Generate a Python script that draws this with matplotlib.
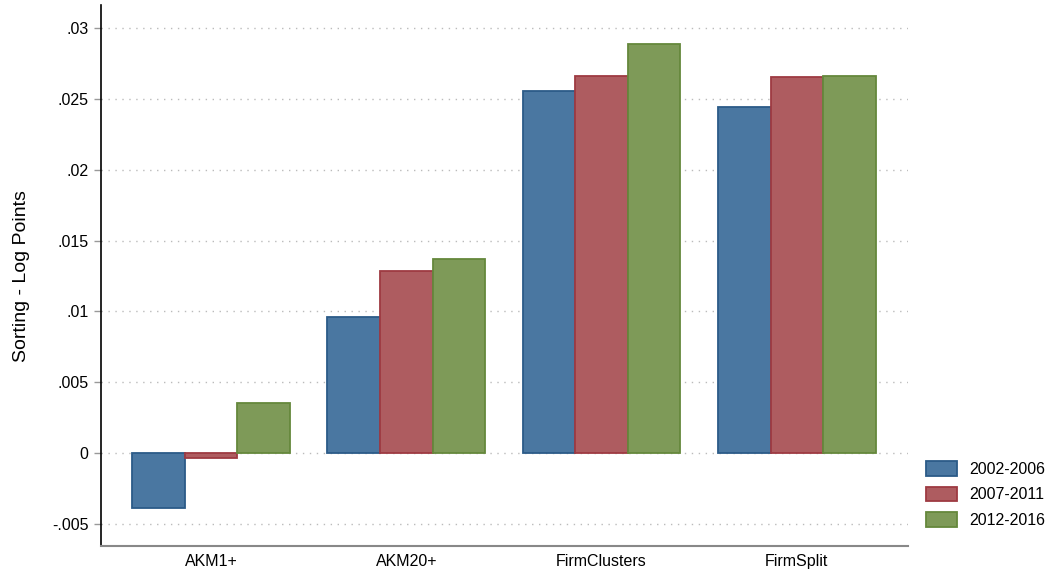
import matplotlib
matplotlib.use("Agg")
import matplotlib.pyplot as plt
import numpy as np

plt.rcParams["font.family"] = ["Liberation Sans", "DejaVu Sans"]

categories = ["AKM1+", "AKM20+", "FirmClusters", "FirmSplit"]
series_labels = ["2002-2006", "2007-2011", "2012-2016"]
v2002 = [-0.00388, 0.0096, 0.02555, 0.02442]
v2007 = [-0.00035, 0.01285, 0.02661, 0.02652]
v2012 = [0.00353, 0.0137, 0.02887, 0.02663]
yticks = [-0.005, 0, 0.005, 0.01, 0.015, 0.02, 0.025, 0.03]
ytick_labels = ["-.005", "0", ".005", ".01", ".015", ".02", ".025", ".03"]

fills = ["#4a77a1", "#ae5c60", "#7e9a58"]
edges = ["#2b5b88", "#9e3a42", "#65883c"]

fig = plt.figure(figsize=(10.52, 5.71), dpi=100)
ax = fig.add_axes([0.096, 0.0438, 0.767, 0.947])

x = np.arange(len(categories))
w = 0.269
for i, vals in enumerate([v2002, v2007, v2012]):
    ax.bar(x + (i - 1) * w, vals, width=w, color=fills[i], edgecolor=edges[i],
           linewidth=1.3, label=series_labels[i], zorder=3)

ax.set_xlim(-0.563, 3.568)
ax.set_ylim(-0.00655, 0.0316)
ax.set_yticks(yticks)
ax.set_yticklabels(ytick_labels, fontsize=11.5)
ax.set_xticks(x)
ax.set_xticklabels(categories, fontsize=11.5)
ax.tick_params(axis="x", length=0, pad=6)
ax.tick_params(axis="y", length=5, color="#999999", width=1, pad=4)
ax.set_ylabel("Sorting - Log Points", fontsize=14, labelpad=16)
ax.grid(axis="y", linestyle=(0, (1, 4)), color="#bbbbbb", linewidth=1, zorder=0)
for s in ["top", "right"]:
    ax.spines[s].set_visible(False)
ax.spines["left"].set_color("black")
ax.spines["left"].set_linewidth(1.2)
ax.spines["bottom"].set_color("#888888")
ax.spines["bottom"].set_linewidth(1.5)

ax.legend(loc="center left", bbox_to_anchor=(1.005, 0.095), frameon=False,
          fontsize=11.5, handlelength=1.95, handleheight=1.0, labelspacing=0.62,
          handletextpad=0.75)

fig.savefig("out.png", dpi=100)
